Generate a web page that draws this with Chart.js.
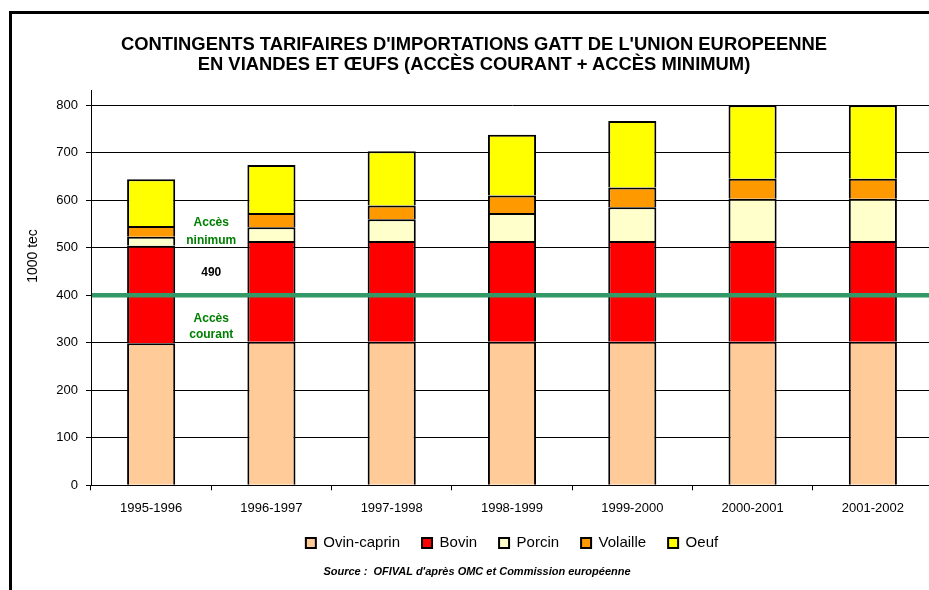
<!DOCTYPE html>
<html>
<head>
<meta charset="utf-8">
<script src="https://cdn.jsdelivr.net/npm/chart.js@4"></script>
<style>
  body { margin: 0; background: #fff; }
  #wrap { position: relative; width: 929px; height: 590px; overflow: hidden; background: #fff; font-family: "Liberation Sans", Arial, sans-serif; }
  #frame { position: absolute; left: 9px; top: 11px; width: 1000px; height: 700px; border-left: 3px solid #000; border-top: 3px solid #000; }
  #title { position: absolute; left: 0; top: 34px; width: 948px; text-align: center; font-weight: bold; font-size: 18.4px; line-height: 20px; color: #000; }
  #source { position: absolute; left: 0; top: 564px; width: 954px; text-align: center; font-weight: bold; font-style: italic; font-size: 11px; line-height: 14px; color: #000; }
  #chart { position: absolute; left: 0; top: 0; }
</style>
</head>
<body>
<div id="wrap">
  <div id="frame"></div>
  <canvas id="chart" width="945" height="590"></canvas>
  <div id="title">CONTINGENTS TARIFAIRES D'IMPORTATIONS GATT DE L'UNION EUROPEENNE<br>EN VIANDES ET ŒUFS (ACCÈS COURANT + ACCÈS MINIMUM)</div>
  <div id="source">Source :&nbsp; OFIVAL d'après OMC et Commission européenne</div>
</div>
<script>
  /* Données (1000 tec) */
  const periods = ["1995-1996", "1996-1997", "1997-1998", "1998-1999", "1999-2000", "2000-2001", "2001-2002"];
  const ovinCaprin = [299, 302, 302, 302, 302, 302, 302];
  const bovin = [205, 212, 212, 212, 212, 212, 212];
  const porcin = [19, 29, 46, 59, 71, 89, 89];
  const volaille = [23, 30, 29, 37, 42, 42, 42];
  const oeuf = [98, 101, 114, 128, 140, 155, 155];

  const seriesNames = ["Ovin-caprin", "Bovin", "Porcin", "Volaille", "Oeuf"];
  const seriesColors = ["#FFCC99", "#FF0000", "#FFFFCC", "#FF9900", "#FFFF00"];

  /* Seuil accès courant et textes d'annotation */
  const accesCourant = 400;
  const noteTexts = ["Accès", "ninimum", "490", "Accès", "courant"];
  const noteValues = [553, 515, 448, 351, 316];

  const yTitle = "1000 tec";

  Chart.defaults.font.family = '"Liberation Sans", Arial, sans-serif';
  Chart.defaults.color = "#000";

  /* Ligne verte + textes + titre de l'axe */
  const extras = {
    id: "extras",
    afterDatasetsDraw(chart) {
      const ctx = chart.ctx;
      const area = chart.chartArea;
      const x = chart.scales.x;
      const y = chart.scales.y;
      ctx.save();

      const yLine = y.getPixelForValue(accesCourant);
      ctx.strokeStyle = "#339966";
      ctx.lineWidth = 4.5;
      ctx.beginPath();
      ctx.moveTo(area.left + 1, yLine);
      ctx.lineTo(area.right, yLine);
      ctx.stroke();

      const xNote = (x.getPixelForValue(0) + x.getPixelForValue(1)) / 2;
      ctx.textAlign = "center";
      ctx.textBaseline = "middle";
      ctx.font = 'bold 12px "Liberation Sans", Arial, sans-serif';
      noteTexts.forEach((t, i) => {
        ctx.fillStyle = t === "490" ? "#000" : "#008000";
        ctx.fillText(t, xNote, y.getPixelForValue(noteValues[i]));
      });

      ctx.fillStyle = "#000";
      ctx.font = '14px "Liberation Sans", Arial, sans-serif';
      ctx.translate(33, 256);
      ctx.rotate(-Math.PI / 2);
      ctx.fillText(yTitle, 0, 0);
      ctx.restore();
    }
  };

  const sets = [ovinCaprin, bovin, porcin, volaille, oeuf];

  new Chart(document.getElementById("chart"), {
    type: "bar",
    data: {
      labels: periods,
      datasets: sets.map((d, i) => ({
        label: seriesNames[i],
        data: d,
        backgroundColor: seriesColors[i],
        borderColor: "#000",
        borderWidth: 2,
        borderSkipped: "bottom",
        barPercentage: 0.4,
        categoryPercentage: 1.0
      }))
    },
    options: {
      responsive: false,
      animation: false,
      layout: { padding: { left: 0, right: 12, top: 90, bottom: 29.5 } },
      scales: {
        x: {
          stacked: true,
          grid: { drawOnChartArea: false, color: "#000", tickLength: 5, offset: true },
          border: { color: "#000", width: 1 },
          ticks: { font: { size: 13, lineHeight: 0.8 }, padding: 12.8, maxRotation: 0 },
          afterFit: (s) => { s.height = 28.2; }
        },
        y: {
          stacked: true,
          min: 0,
          max: 832,
          grid: { color: "#000", lineWidth: 1, tickLength: 5 },
          border: { color: "#000", width: 1 },
          ticks: { stepSize: 100, includeBounds: false, font: { size: 13 }, padding: 8 },
          afterFit: (s) => { s.width = 91; }
        }
      },
      plugins: {
        legend: {
          position: "bottom",
          fullSize: false,
          labels: { boxWidth: 10, boxHeight: 10, padding: 22, font: { size: 15 } }
        },
        title: { display: false },
        tooltip: { enabled: false }
      }
    },
    plugins: [extras]
  });
</script>
</body>
</html>
